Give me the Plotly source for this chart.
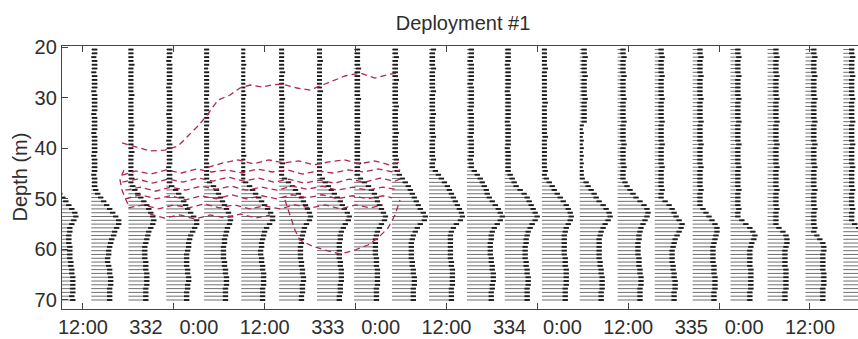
import plotly.graph_objects as go

# ---------------- data ----------------
# profile times, hours since day 331 00:00
HOURS = [8.1, 13.1, 18.0, 23.0, 28.0, 32.9, 37.9, 42.9, 47.8, 52.8, 57.7,
         62.7, 67.7, 72.6, 77.6, 82.6, 87.5, 92.5, 97.5, 102.4, 107.4, 112.4]

# depth bins (m)
DEPTHS = [20.5, 21.25, 22.0, 22.75, 23.5, 24.25, 25.0, 25.75, 26.5, 27.25,
          28.0, 28.75, 29.5, 30.25, 31.0, 31.75, 32.5, 33.25, 34.0, 34.75,
          35.5, 36.25, 37.0, 37.75, 38.5, 39.25, 40.0, 40.75, 41.5, 42.25,
          43.0, 43.75, 44.5, 45.25, 46.0, 46.75, 47.5, 48.25, 49.0, 49.75,
          50.5, 51.25, 52.0, 52.75, 53.5, 54.25, 55.0, 55.75, 56.5, 57.25,
          58.0, 58.75, 59.5, 60.25, 61.0, 61.75, 62.5, 63.25, 64.0, 64.75,
          65.5, 66.25, 67.0, 67.75, 68.5, 69.25, 70.0]

# stick lengths (velocity units) per profile, top to bottom
U_M1 = ("5 5 5 5 5 5 5 5 5 5 5 5 5 5 5 5 5 5 5 5 5 5 5 5 5 5 5 5 5 5 5 5 5 5 5 5 5 "
        "6 9 12 15 18 21 24 25 23 21 19 19 18 18 18 19 19 19 19 20 20 21 21 22 22 22 22 22 21 22")
U_00 = ("6 6 5 6 6 6 5 6 6 6 6 5 6 6 6 6 6 5 6 6 6 6 5 6 6 6 6 6 5 6 6 6 6 5 6 6 6 "
        "7 9 12 15 18 21 24 27 30 30 28 26 25 23 22 21 20 20 19 19 20 21 21 22 22 22 21 21 21 21")
U_01 = ("5 5 5 5 6 5 5 5 5 5 5 5 6 5 5 5 5 5 5 5 6 5 5 5 5 5 5 6 5 5 5 5 5 5 6 5 "
        "7 9 12 15 18 21 23 25 27 28 27 25 23 22 21 20 19 19 19 19 20 20 20 21 21 21 21 20 20 20 20")
U_02 = ("6 6 6 5 6 6 6 6 6 6 5 6 6 6 6 6 6 5 6 6 6 6 6 6 5 6 6 6 6 6 6 5 6 6 6 6 "
        "8 12 15 18 20 22 24 27 30 33 33 31 29 27 26 25 25 24 23 23 23 23 24 24 25 25 24 24 23 23 23")
U_03 = ("5 5 5 5 5 4 5 5 5 5 5 5 5 4 5 5 5 5 5 5 5 4 5 5 5 5 5 5 5 4 5 5 5 5 5 "
        "8 12 15 17 19 21 23 25 27 29 29 28 26 25 24 23 23 22 22 22 22 23 23 24 24 25 25 25 24 24 24 24")
U_04 = ("4 4 4 4 5 4 4 4 4 4 4 4 5 4 4 4 4 4 4 4 5 4 4 4 4 4 4 4 5 4 4 4 4 4 4 "
        "7 11 14 17 20 23 26 29 32 34 34 31 28 26 25 24 23 23 22 22 23 23 24 24 25 25 25 25 24 24 24 24")
U_05 = ("5 5 5 5 5 5 6 5 5 5 5 5 5 6 5 5 5 5 5 5 5 6 5 5 5 5 5 5 5 5 6 5 5 5 "
        "8 12 16 19 22 25 27 29 31 33 34 33 30 28 27 26 25 25 24 24 24 24 25 25 26 26 27 27 26 26 26 25 25")
U_06 = ("5 5 5 6 5 5 5 5 5 5 5 6 5 5 5 5 5 5 5 6 5 5 5 5 5 5 5 6 5 5 5 5 5 5 "
        "8 11 14 17 20 23 26 28 30 33 35 34 31 29 27 26 26 25 25 25 25 25 26 26 27 27 27 27 26 26 26 25 25")
U_07 = ("6 6 6 6 6 7 6 6 6 6 6 6 6 7 6 6 6 6 6 6 6 6 7 6 6 6 6 6 6 6 7 6 6 6 "
        "9 13 17 20 23 25 26 28 30 32 34 33 30 28 26 25 24 24 24 24 24 25 25 25 26 26 26 26 26 25 25 25 25")
U_08 = ("6 6 7 6 6 6 6 6 7 6 6 6 6 6 6 7 6 6 6 6 6 6 7 6 6 6 6 6 6 7 6 6 "
        "8 10 13 16 19 21 23 25 27 29 31 34 36 35 31 28 26 24 23 22 22 22 22 22 23 23 24 24 25 25 25 24 24 24 24")
U_09 = ("7 6 6 6 6 7 6 6 6 6 6 7 6 6 6 6 6 7 6 6 6 6 6 7 6 6 6 6 6 7 6 6 "
        "9 12 15 18 21 23 25 27 29 31 33 35 36 34 30 27 25 24 24 24 24 24 24 24 25 25 26 26 26 26 26 25 25 25 25")
U_10 = ("7 7 7 6 7 7 7 7 7 6 7 7 7 7 7 7 6 7 7 7 7 7 7 6 7 7 7 7 7 6 7 7 "
        "10 13 16 18 20 22 23 25 28 31 34 36 38 36 33 30 28 27 27 26 26 26 26 27 27 28 28 29 29 29 28 28 27 27 27")
U_11 = ("6 6 6 6 5 6 6 6 6 6 6 5 6 6 6 6 6 6 6 5 6 6 6 6 6 6 5 6 6 6 6 6 6 "
        "8 10 12 14 18 22 25 27 29 31 33 35 33 30 28 26 25 24 24 23 23 23 23 24 24 25 25 26 26 26 25 25 25 25")
U_12 = ("5 5 5 5 5 6 5 5 5 5 5 5 5 5 6 5 5 5 5 5 5 5 5 6 5 5 5 5 5 5 5 5 6 5 "
        "7 10 13 15 18 21 24 27 29 31 32 31 29 27 26 25 25 25 25 25 25 26 26 26 27 27 27 27 27 26 26 26 26")
U_13 = ("7 7 8 7 7 7 7 8 7 7 7 7 7 8 7 7 7 7 7 7 4 3 4 3 4 3 4 3 4 3 4 3 4 4 5 "
        "9 11 14 17 19 22 26 29 32 33 31 28 26 24 23 22 22 22 22 22 22 23 23 24 24 25 25 25 25 24 24 24")
U_14 = ("8 8 9 8 8 8 8 9 8 8 8 8 8 9 8 8 8 8 8 9 8 8 8 8 8 9 8 8 8 8 8 9 8 8 8 "
        "10 12 15 18 21 25 29 32 33 32 30 28 26 25 24 24 23 23 23 23 24 24 24 25 25 26 26 26 25 25 25 25")
U_15 = ("9 9 10 9 9 9 9 10 9 9 9 9 9 10 9 9 9 9 9 10 9 9 9 9 9 10 9 9 9 9 9 10 9 9 9 9 9 10 9 9 "
        "13 17 20 22 24 27 30 29 27 25 23 22 21 20 20 20 20 21 21 22 22 23 23 23 22 22 22")
U_16 = ("10 10 11 10 10 10 10 11 10 10 10 10 10 11 10 10 10 10 10 11 10 10 10 10 10 11 10 10 10 10 "
        "10 11 10 10 10 10 10 11 10 10 10 10 "
        "13 16 19 22 25 27 27 26 25 24 23 23 23 23 23 24 24 24 25 25 25 25 24 24 24")
U_17 = ("10 10 11 10 10 10 10 11 10 10 10 10 10 11 10 10 10 10 10 11 10 10 10 10 10 11 10 10 10 10 "
        "10 11 10 10 10 10 10 11 10 10 10 10 11 10 10 "
        "14 18 22 25 27 26 24 23 22 22 22 22 22 23 23 23 23 23 23 22 22 22")
U_18 = ("11 11 12 11 11 11 11 12 11 11 11 11 11 12 11 11 11 11 11 12 11 11 11 11 11 12 11 11 11 11 "
        "11 12 11 11 11 11 11 12 11 11 11 11 12 11 11 11 11 "
        "14 18 21 22 22 21 20 20 20 20 20 21 21 21 21 21 21 20 20 20")
U_19 = ("11 11 12 11 11 11 11 12 11 11 11 11 11 12 11 11 11 11 11 12 11 11 11 11 11 12 11 11 11 11 "
        "11 12 11 11 11 11 11 12 11 11 11 11 12 11 11 11 11 12 11 "
        "14 17 20 21 21 20 20 20 20 20 21 21 21 21 20 20 20 20")
U_20 = ("11 11 12 11 11 11 11 12 11 11 11 11 11 12 11 11 11 11 11 12 11 11 11 11 11 12 11 11 11 11 "
        "11 12 11 11 11 11 11 12 11 11 11 11 12 11 11 11 "
        "14 18 21 22 22 22 22 22 22 22 22 22 22 22 22 22 22 22 22 22 22")

PROFILES = [U_M1, U_00, U_01, U_02, U_03, U_04, U_05, U_06, U_07, U_08, U_09,
            U_10, U_11, U_12, U_13, U_14, U_15, U_16, U_17, U_18, U_19, U_20]

# red contour lines (time in hours, depth in m)
C1_T = [17.15, 18.87, 20.85, 22.83, 24.54, 25.87, 27.19, 28.51, 29.83, 31.41, 32.73, 34.05,
        35.64, 36.96, 38.28, 40.26, 41.98, 43.96, 46.60, 48.58, 50.56, 52.54, 53.60]
C1_D = [38.97, 39.76, 40.55, 40.36, 39.57, 37.59, 35.61, 33.24, 30.47, 29.49, 28.10, 27.51,
        27.91, 27.51, 27.31, 28.10, 28.50, 27.31, 25.73, 25.14, 26.13, 25.34, 25.14]
C2_T = [28.5, 30.5, 32.5, 34.5, 36.5, 38.5, 40.5, 42.5, 44.5, 46.5, 48.5, 50.5, 52.5, 53.9]
C2_D = [43.8, 42.9, 42.3, 43.1, 42.3, 42.9, 42.5, 43.3, 42.7, 42.3, 43.1, 42.5, 43.3, 42.7]
C3_T = [17.2, 19.0, 21.0, 23.0, 25.0, 27.0, 29.0, 31.0, 33.0, 35.0, 37.0, 39.0, 41.0, 43.0,
        45.0, 47.0, 49.0, 51.0, 53.0, 53.9]
C3_D = [45.3, 44.5, 45.1, 44.3, 44.9, 44.1, 44.7, 44.3, 44.9, 44.1, 44.7, 44.3, 45.1, 44.5,
        44.9, 44.3, 44.7, 44.1, 44.7, 44.3]
C4_T = [17.2, 19.2, 21.2, 23.2, 25.2, 27.2, 29.2, 31.2, 33.2, 35.2, 37.2, 39.2, 41.2, 43.2,
        45.2, 47.2, 49.2, 51.2, 53.2, 54.2]
C4_D = [46.7, 46.1, 46.9, 46.1, 46.7, 45.9, 46.5, 45.7, 46.5, 45.9, 46.7, 46.1, 46.9, 46.3,
        46.9, 46.1, 46.7, 45.9, 46.5, 45.9]
C5_T = [17.6, 19.6, 21.6, 23.6, 25.6, 27.6, 29.6, 31.6, 33.6, 35.6, 37.6, 39.6, 41.6, 43.6,
        45.6, 47.6, 49.6, 51.6, 53.2]
C5_D = [48.3, 47.7, 48.5, 47.7, 48.3, 47.5, 48.1, 47.5, 48.3, 47.7, 48.3, 47.5, 48.1, 47.5,
        48.3, 47.7, 48.3, 47.7, 48.1]
C6_T = [17.6, 19.6, 21.6, 23.6, 25.6, 27.6, 29.6, 31.6, 33.6, 35.6, 37.6, 39.6, 41.6, 43.6,
        45.6, 47.6, 49.6, 51.6, 52.8]
C6_D = [50.0, 49.2, 50.0, 49.4, 50.2, 49.4, 50.0, 49.2, 50.0, 49.4, 50.0, 49.2, 49.8, 49.2,
        50.0, 49.4, 50.0, 49.4, 49.8]
C7_T = [18.0, 20.0, 22.0, 24.0, 26.0, 28.0, 30.0, 32.0, 34.0, 36.0, 38.0, 40.0, 42.0, 44.0,
        46.0, 48.0, 50.0, 51.6]
C7_D = [51.8, 51.2, 52.0, 51.2, 51.8, 51.0, 51.8, 51.2, 52.0, 51.4, 52.0, 51.2, 51.8, 51.2,
        52.0, 51.2, 51.8, 51.2]
C8_T = [20.8, 22.8, 24.8, 26.8, 28.8, 30.8, 32.8, 34.8, 36.7]
C8_D = [53.0, 53.8, 53.2, 54.0, 53.2, 53.8, 53.0, 53.8, 53.2]
C9_T = [38.67, 39.33, 39.99, 40.65, 42.24, 43.96, 45.94, 47.92, 49.63, 50.95, 52.28, 53.20, 53.86]
C9_D = [50.24, 53.20, 56.17, 58.14, 59.33, 60.12, 60.91, 60.12, 59.13, 57.75, 55.77, 53.20, 50.24]
CL_T = [17.41, 16.89, 17.15, 17.68, 18.21]
CL_D = [44.31, 46.28, 48.26, 50.24, 51.82]

CONTOURS = [(C1_T, C1_D), (C2_T, C2_D), (C3_T, C3_D), (C4_T, C4_D), (C5_T, C5_D),
            (C6_T, C6_D), (C7_T, C7_D), (C8_T, C8_D), (C9_T, C9_D), (CL_T, CL_D)]

TICK_HOURS = [12, 24, 36, 48, 60, 72, 84, 96, 108]
NB = "\u00a0\u00a0\u00a0"
TICK_LABELS = ["12:00", "332" + NB + "0:00", "12:00", "333" + NB + "0:00", "12:00",
               "334" + NB + "0:00", "12:00", "335" + NB + "0:00", "12:00"]
DEPTH_TICKS = [20, 30, 40, 50, 60, 70]

UNIT_H = 0.132   # x-axis hours per velocity unit
HEAD_H = 0.7     # arrow head length in hours

# ---------------- build ----------------
shaft_x, shaft_y, head_x, head_y = [], [], [], []
for t, s in zip(HOURS, PROFILES):
    u = [float(v) for v in s.split()]
    assert len(u) == len(DEPTHS), (t, len(u))
    for d, uu in zip(DEPTHS, u):
        tip = t + uu * UNIT_H
        shaft_x += [t, tip, None]
        shaft_y += [d, d, None]
        head_x += [max(t, tip - HEAD_H), tip, None]
        head_y += [d, d, None]

red_x, red_y = [], []
for ct, cd in CONTOURS:
    red_x += list(ct) + [None]
    red_y += list(cd) + [None]

fig = go.Figure()
fig.add_trace(go.Scatter(x=shaft_x, y=shaft_y, mode="lines",
                         line=dict(color="rgba(50,50,50,0.7)", width=1),
                         hoverinfo="skip"))
fig.add_trace(go.Scatter(x=head_x, y=head_y, mode="lines",
                         line=dict(color="#1c1c1c", width=1.9),
                         hoverinfo="skip"))
fig.add_trace(go.Scatter(x=red_x, y=red_y, mode="lines",
                         line=dict(color="rgb(176,40,78)", width=1.3, dash="6px,4px"),
                         hoverinfo="skip"))

FONT = "Liberation Sans, Arial, Helvetica, sans-serif"
fig.update_layout(
    width=858, height=339,
    margin=dict(l=62, r=0, t=46, b=30),
    paper_bgcolor="white", plot_bgcolor="white",
    showlegend=False,
    font=dict(family=FONT, color="#2e2e2e"),
    title=dict(text="Deployment #1", x=463 / 858, xref="container", xanchor="center",
               y=1 - 23 / 339, yref="container", yanchor="middle",
               font=dict(family=FONT, size=20, color="#2e2e2e")),
)
fig.update_xaxes(range=[9.23, 114.34], tickmode="array", tickvals=TICK_HOURS,
                 ticktext=TICK_LABELS, ticks="inside", ticklen=6, tickwidth=1.2,
                 tickcolor="#444", showline=True, linecolor="#444", linewidth=1.3,
                 mirror="ticks", showgrid=False, zeroline=False,
                 tickfont=dict(size=20, family=FONT, color="#2e2e2e"))
fig.update_yaxes(range=[71.78, 19.8], tickmode="array", tickvals=DEPTH_TICKS,
                 ticks="inside", ticklen=6, tickwidth=1.2, tickcolor="#444",
                 showline=True, linecolor="#444", linewidth=1.3, mirror=False,
                 showgrid=False, zeroline=False,
                 tickfont=dict(size=20, family=FONT, color="#2e2e2e"))
fig.add_annotation(text="Depth (m)", xref="paper", yref="paper",
                   x=(19 - 62) / 796, y=0.5, xanchor="center", yanchor="middle",
                   textangle=-90, showarrow=False,
                   font=dict(family=FONT, size=20, color="#2e2e2e"))

fig.write_html("out.html")
